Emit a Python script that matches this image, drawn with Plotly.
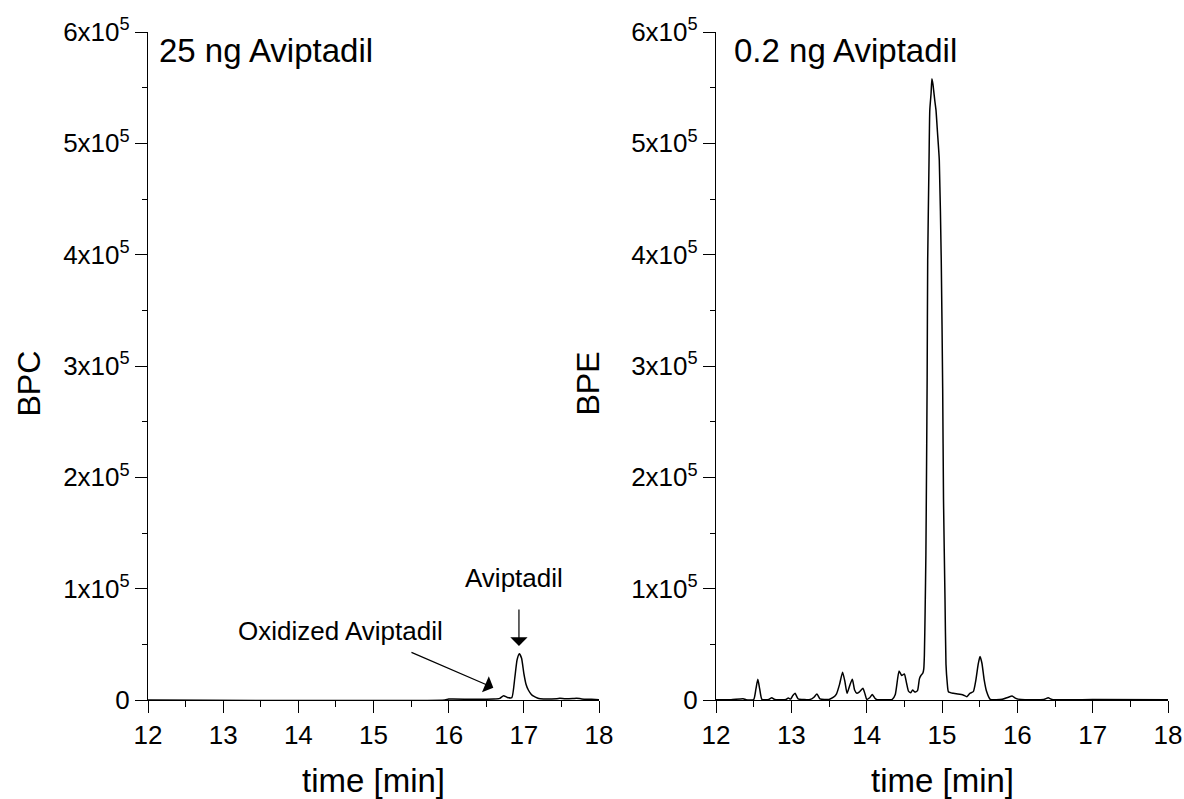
import plotly.graph_objects as go

# ---------------- data ----------------
left_time = [12.0, 15.95, 16.0, 16.3, 16.6, 16.68, 16.73, 16.78, 16.84, 16.88, 16.91,
             16.94, 16.97, 17.0, 17.03, 17.06, 17.1, 17.13, 17.18, 17.22, 17.44, 17.48,
             17.55, 17.65, 17.7, 17.77, 17.9, 18.0]
left_bpc = [0, 0, 800, 700, 900, 1500, 3900, 2300, 2100, 20000, 36000,
            41500, 37500, 24000, 14000, 9000, 5000, 3400, 1800, 1200, 1200, 1500,
            1100, 1300, 1600, 1000, 600, 300]

right_time = [12.0, 12.2, 12.36, 12.4, 12.5, 12.53, 12.555, 12.58, 12.61, 12.7, 12.74,
              12.78, 12.93, 12.96, 12.99, 13.02, 13.05, 13.09, 13.25, 13.3, 13.34, 13.38,
              13.5, 13.56, 13.6, 13.64, 13.68, 13.71, 13.74, 13.78, 13.81, 13.84, 13.87,
              13.9, 13.95, 13.98, 14.0, 14.04, 14.075, 14.11, 14.13, 14.34, 14.38, 14.43,
              14.465, 14.5, 14.53, 14.555, 14.585, 14.61, 14.64, 14.675, 14.7, 14.72,
              14.745, 14.758, 14.766, 14.776, 14.786, 14.795, 14.803, 14.81, 14.828,
              14.838, 14.855, 14.866, 14.88, 14.905, 14.92, 14.94, 14.964, 14.99, 15.009,
              15.02, 15.04, 15.053, 15.07, 15.085, 15.15, 15.28, 15.33, 15.37, 15.416,
              15.45, 15.48, 15.505, 15.53, 15.56, 15.59, 15.64, 15.8, 15.88, 15.93, 15.98,
              16.05, 16.35, 16.41, 16.46, 17.0, 18.0]
right_bpe = [300, 300, 1200, 300, 400, 10000, 18600, 10000, 500, 500, 2000,
             400, 500, 1800, 800, 4000, 6000, 1000, 500, 2500, 5400, 1000,
             500, 2500, 5500, 14000, 25000, 17000, 6000, 14000, 18600, 9000, 6000,
             7000, 10500, 5000, 600, 2000, 5000, 1500, 500, 600, 5000, 26000,
             22000, 23400, 15000, 8000, 6600, 9000, 7200, 8400, 19000, 22000,
             24000, 28000, 40000, 80000, 130000, 210000, 290000, 395000, 485000,
             530000, 545000, 558000, 553000, 538000, 530000, 510000, 485000, 395000, 280000,
             180000, 90000, 32000, 15000, 7500, 6000, 4500, 3000, 6000, 7500,
             18000, 32000, 39000, 33000, 18000, 8000, 600, 600, 2500, 3500, 1500,
             500, 500, 2000, 500, 400, 300]

y_tickvals = [0, 100000, 200000, 300000, 400000, 500000, 600000]
y_ticktext = ["0", "1x10<sup>5</sup>", "2x10<sup>5</sup>", "3x10<sup>5</sup>",
              "4x10<sup>5</sup>", "5x10<sup>5</sup>", "6x10<sup>5</sup>"]
x_tickvals = [12, 13, 14, 15, 16, 17, 18]

panel_titles = ["25 ng Aviptadil", "0.2 ng Aviptadil"]
y_titles = ["BPC", "BPE"]
x_title = "time [min]"

# ---------------- figure ----------------
W, H = 1184, 799
FONT = "Liberation Sans"

fig = go.Figure()
fig.add_trace(go.Scatter(x=left_time, y=left_bpc, mode="lines",
                         line=dict(color="black", width=1.5, shape="spline", smoothing=0.5),
                         xaxis="x", yaxis="y", showlegend=False))
fig.add_trace(go.Scatter(x=right_time, y=right_bpe, mode="lines",
                         line=dict(color="black", width=1.5, shape="spline", smoothing=0.5),
                         xaxis="x2", yaxis="y2", showlegend=False))

def px(xp):
    return xp / W

def py(yp):
    return 1 - yp / H

ydom = [py(700), py(32)]
xcommon = dict(range=[12, 18], tickvals=x_tickvals, ticks="outside", ticklen=12,
               tickwidth=1.3, tickcolor="black", showline=True, linecolor="black",
               linewidth=1.3, showgrid=False, zeroline=False, automargin=False,
               tickfont=dict(family=FONT, size=26, color="black"),
               minor=dict(dtick=0.5, ticks="outside", ticklen=6, tickwidth=1.3,
                          tickcolor="black", showgrid=False))
ycommon = dict(range=[0, 600000], tickvals=y_tickvals, ticktext=y_ticktext,
               ticks="outside", ticklen=12, tickwidth=1.3, tickcolor="black",
               showline=True, linecolor="black", linewidth=1.3, showgrid=False,
               zeroline=False, domain=ydom, automargin=False,
               tickfont=dict(family=FONT, size=26, color="black"),
               minor=dict(dtick=50000, ticks="outside", ticklen=5, tickwidth=1.3,
                          tickcolor="black", showgrid=False))

fig.update_layout(
    width=W, height=H,
    margin=dict(l=0, r=0, t=0, b=0, autoexpand=False),
    paper_bgcolor="white", plot_bgcolor="white",
    font=dict(family=FONT, color="black"),
    xaxis=dict(domain=[px(148), px(599)], anchor="y", **xcommon),
    yaxis=dict(anchor="x", **ycommon),
    xaxis2=dict(domain=[px(716), px(1168)], anchor="y2", **xcommon),
    yaxis2=dict(anchor="x2", **ycommon),
)

ann = []
# panel titles
ann.append(dict(text=panel_titles[0], x=px(157), y=py(50), xref="paper", yref="paper",
                xanchor="left", yanchor="middle", showarrow=False,
                font=dict(family=FONT, size=33, color="black")))
ann.append(dict(text=panel_titles[1], x=px(732), y=py(50), xref="paper", yref="paper",
                xanchor="left", yanchor="middle", showarrow=False,
                font=dict(family=FONT, size=33, color="black")))
# axis titles
for xc, t in [(373.5, x_title), (942, x_title)]:
    ann.append(dict(text=t, x=px(xc), y=py(780), xref="paper", yref="paper",
                    xanchor="center", yanchor="middle", showarrow=False,
                    font=dict(family=FONT, size=33, color="black")))
for xc, t in [(28.5, y_titles[0]), (587.5, y_titles[1])]:
    ann.append(dict(text=t, x=px(xc), y=py(384), xref="paper", yref="paper",
                    xanchor="center", yanchor="middle", showarrow=False, textangle=-90,
                    font=dict(family=FONT, size=32, color="black")))
# peak labels
ann.append(dict(text="Aviptadil", x=16.87, y=110000, xref="x", yref="y",
                xanchor="center", yanchor="middle", showarrow=False,
                font=dict(family=FONT, size=26, color="black")))
ann.append(dict(text="Oxidized Aviptadil", x=14.56, y=62000, xref="x", yref="y",
                xanchor="center", yanchor="middle", showarrow=False,
                font=dict(family=FONT, size=26, color="black")))
# arrows
ann.append(dict(text="", x=16.935, y=48500, ax=16.935, ay=82650, xref="x", yref="y",
                axref="x", ayref="y", showarrow=True, arrowhead=1, arrowsize=2.4,
                arrowwidth=1.2, arrowcolor="black"))
ann.append(dict(text="", x=16.594, y=11050, ax=15.485, ay=43400, xref="x", yref="y",
                axref="x", ayref="y", showarrow=True, arrowhead=1, arrowsize=2.4,
                arrowwidth=1.2, arrowcolor="black"))
fig.update_layout(annotations=ann)

fig.write_html("out.html")
